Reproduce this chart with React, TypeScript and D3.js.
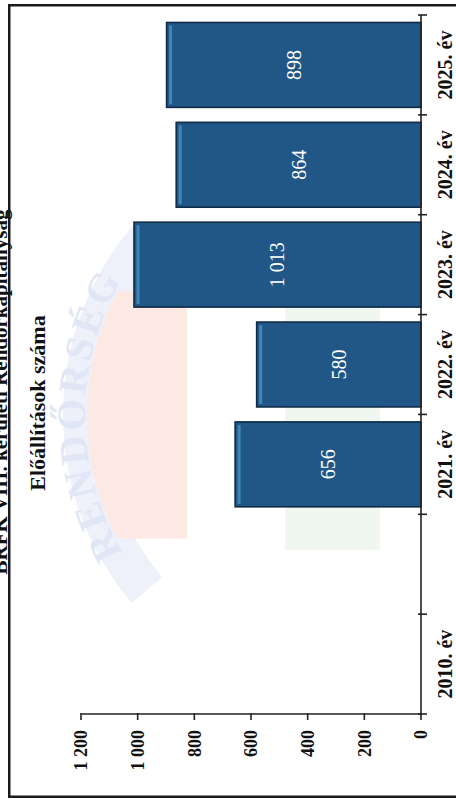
import React from "react";
import * as d3 from "d3";

const categoryLabels = ["2010. év", "", "2021. év", "2022. év", "2023. év", "2024. év", "2025. év"];
const values: (number | null)[] = [null, null, 656, 580, 1013, 864, 898];
const valueTicks = [0, 200, 400, 600, 800, 1000, 1200];
const title = "Előállítások száma";
const header = "BRFK VIII. kerületi Rendőrkapitányság";
const watermarkText = "RENDŐRSÉG";

const huLocale = d3.formatLocale({ decimal: ",", thousands: " ", grouping: [3], currency: ["", " Ft"] });
const fmt = huLocale.format(",d");

const SERIF = "'Liberation Serif', 'Times New Roman', Times, serif";

export default function App() {
  // Chart is drawn in the unrotated frame (u along 0..800, v along 0..456)
  // and then turned -90° onto the page.
  const x = d3.scaleBand<string>().domain(categoryLabels).range([86, 785]).paddingInner(0.15).paddingOuter(0.075);
  const y = d3.scaleLinear().domain([0, 1200]).range([421, 81]);
  const step = x.step();
  const bw = x.bandwidth();
  const axisY = y(0);
  const axisX = 86;
  const boundaries = d3.range(categoryLabels.length + 1).map((i) => axisX + i * step);

  // watermark geometry (badge)
  const cx = 385, cy = 355;
  const rMid = 270;
  const arc = d3.arc()({ innerRadius: 252, outerRadius: 292, startAngle: -0.7, endAngle: 0.7 }) as string;
  const a0 = -0.48, a1 = 0.48, rp = 268;
  const pinkPath = `M${cx + rp * Math.sin(a0)},${cy - rp * Math.cos(a0)} A${rp},${rp} 0 0 1 ${cx + rp * Math.sin(a1)},${cy - rp * Math.cos(a1)} L${cx + rp * Math.sin(a1)},187 L${cx + rp * Math.sin(a0)},187 Z`;
  const tp0 = -0.62, tp1 = 0.62;
  const textArc = `M${cx + rMid * Math.sin(tp0)},${cy - rMid * Math.cos(tp0)} A${rMid},${rMid} 0 0 1 ${cx + rMid * Math.sin(tp1)},${cy - rMid * Math.cos(tp1)}`;

  return (
    <svg width={456} height={800} style={{ position: "absolute", left: 0, top: 0, display: "block", background: "#fff" }}>
      <defs>
        <path id="wmArc" d={textArc} />
      </defs>
      <g transform="translate(0,800) rotate(-90)">
        {/* faint watermark */}
        <g>
          <path d={arc} transform={`translate(${cx},${cy})`} fill="#eef1fa" />
          <path d={pinkPath} fill="#fde9e4" />
          <rect x={250} y={285} width={250} height={95} fill="#f0f7f1" />
          <text fontFamily={SERIF} fontWeight="bold" fontSize={40} fill="#e0e6f5" letterSpacing={4}>
            <textPath href="#wmArc" startOffset="50%" textAnchor="middle">{watermarkText}</textPath>
          </text>
        </g>

        {/* header cut by page edge */}
        <text x={408} y={7} textAnchor="middle" fontFamily={SERIF} fontWeight="bold" fontSize={21} fill="#111">{header}</text>

        {/* title */}
        <text x={397} y={45} textAnchor="middle" fontFamily={SERIF} fontWeight="bold" fontSize={22} fill="#111">{title}</text>

        {/* bars */}
        {categoryLabels.map((c, i) => {
          const v = values[i];
          if (v == null) return null;
          const bx = x(c)!;
          const top = y(v);
          return (
            <g key={c}>
              <rect x={bx} y={top} width={bw} height={axisY - top} fill="#215786" stroke="#0f2b46" strokeWidth={1.6} />
              <rect x={bx + 3} y={top + 2.5} width={bw - 6} height={3} fill="#4a97c9" opacity={0.75} />
              <text x={bx + bw / 2} y={(top + axisY) / 2} dy="0.35em" textAnchor="middle" fontFamily={SERIF} fontSize={20} fill="#ffffff">{fmt(v)}</text>
            </g>
          );
        })}

        {/* value axis */}
        <line x1={axisX} x2={axisX} y1={y(1200)} y2={axisY} stroke="#222" strokeWidth={1.6} />
        {valueTicks.map((t) => (
          <g key={t}>
            <line x1={axisX + 1} x2={axisX - 6} y1={y(t)} y2={y(t)} stroke="#222" strokeWidth={1.6} />
            <text x={axisX - 16} y={y(t)} dy="0.35em" textAnchor="end" fontFamily={SERIF} fontWeight="bold" fontSize={18} fill="#111">{fmt(t)}</text>
          </g>
        ))}

        {/* category axis */}
        <line x1={axisX} x2={785} y1={axisY} y2={axisY} stroke="#222" strokeWidth={1.6} />
        {boundaries.map((b, i) => (
          <line key={i} x1={b} x2={b} y1={axisY - 3} y2={axisY + 6} stroke="#222" strokeWidth={1.6} />
        ))}
        {categoryLabels.map((c) => (
          <text key={"l" + c} x={x(c)! + bw / 2} y={452} textAnchor="middle" fontFamily={SERIF} fontWeight="bold" fontSize={20} fill="#111">{c}</text>
        ))}
      </g>

      {/* frame */}
      <rect x={9.25} y={5.25} width={460} height={791.5} fill="none" stroke="#1a1a1a" strokeWidth={2.5} />
    </svg>
  );
}
